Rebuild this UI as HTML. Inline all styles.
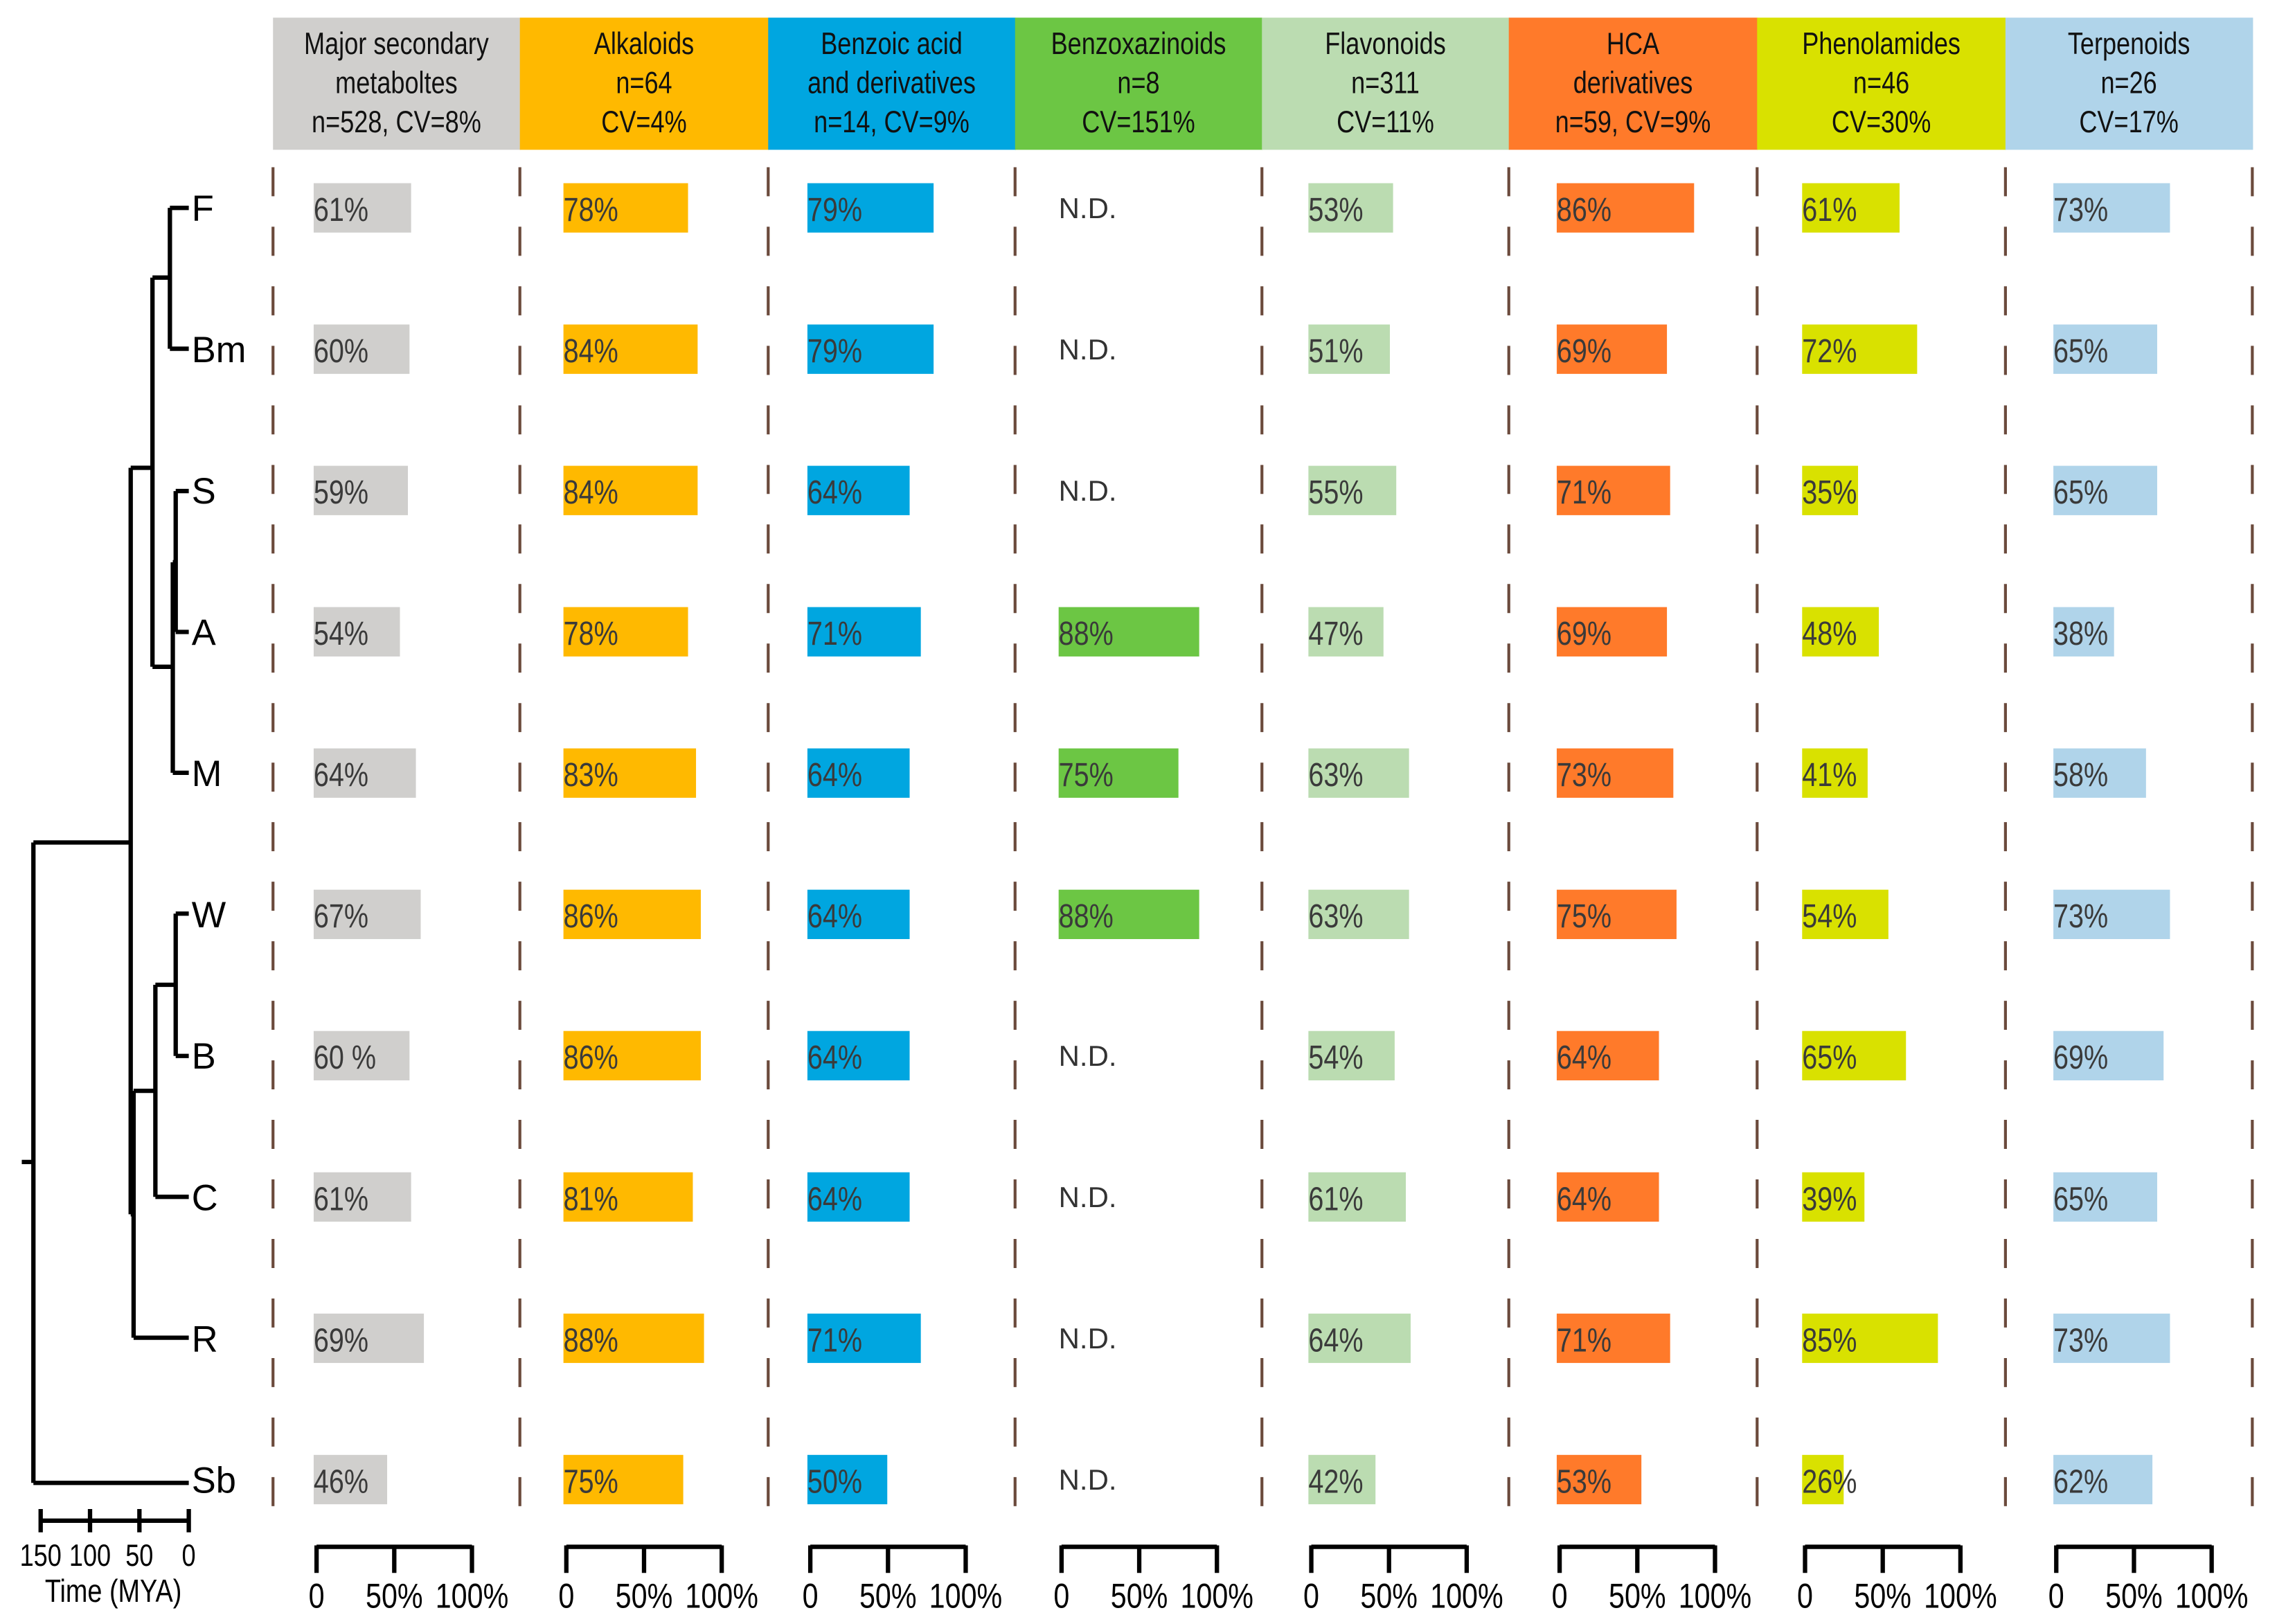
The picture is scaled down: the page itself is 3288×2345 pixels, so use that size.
<!DOCTYPE html>
<html><head><meta charset="utf-8"><style>
html,body{margin:0;padding:0;background:#fff;}
svg{display:block;font-family:"Liberation Sans",Arial,sans-serif;}
</style></head><body>
<svg id="chart" width="3288" height="2345" viewBox="0 0 1568 1118" xmlns="http://www.w3.org/2000/svg">
<g id="tree" stroke="#000" stroke-width="3" fill="none"></g>
<g id="main"></g>
</svg>
<script>
const species = ["F","Bm","S","A","M","W","B","C","R","Sb"];
const categories = ["Major secondary metaboltes","Alkaloids","Benzoic acid and derivatives","Benzoxazinoids","Flavonoids","HCA derivatives","Phenolamides","Terpenoids"];
const headerLines = [
 ["Major secondary","metaboltes","n=528, CV=8%"],
 ["Alkaloids","n=64","CV=4%"],
 ["Benzoic acid","and derivatives","n=14, CV=9%"],
 ["Benzoxazinoids","n=8","CV=151%"],
 ["Flavonoids","n=311","CV=11%"],
 ["HCA","derivatives","n=59, CV=9%"],
 ["Phenolamides","n=46","CV=30%"],
 ["Terpenoids","n=26","CV=17%"]];
const valsMajor = [61,60,59,54,64,67,60,61,69,46];
const valsAlkaloids = [78,84,84,78,83,86,86,81,88,75];
const valsBenzoic = [79,79,64,71,64,64,64,64,71,50];
const valsBenzox = [null,null,null,88,75,88,null,null,null,null];
const valsFlavonoids = [53,51,55,47,63,63,54,61,64,42];
const valsHCA = [86,69,71,69,73,75,64,64,71,53];
const valsPhenolamides = [61,72,35,48,41,54,65,39,85,26];
const valsTerpenoids = [73,65,65,38,58,73,69,65,73,62];
const series = [valsMajor,valsAlkaloids,valsBenzoic,valsBenzox,valsFlavonoids,valsHCA,valsPhenolamides,valsTerpenoids];
const axisTicks = [0,50,100];
const axisTickLabels = ["0","50%","100%"];
const timeTicks = [150,100,50,0];

const colors = ["#d0cfcd","#ffb900","#00a6e0","#6cc644","#bbdcb1","#ff7a2a","#d9e100","#b0d4ea"];
const colEdges = [188,358,529,699,869,1039,1210,1381,1551];
const barOrigins = [216,388,556,729,901,1072,1241,1414];
const NS="http://www.w3.org/2000/svg";
const main=document.getElementById('main');
function mk(tag,attrs,parent){const e=document.createElementNS(NS,tag);for(const k in attrs)e.setAttribute(k,attrs[k]);(parent||main).appendChild(e);return e;}
const colLeft=i=>colEdges[i];
const rowY=r=>143+r*97.3;
const xScale=(i,v)=>barOrigins[i]+v*1.10;
const axScale=(i,v)=>barOrigins[i]+2+v*1.07;
const SX=0.82;

categories.forEach((c,i)=>{
  const h=mk('rect',{x:colLeft(i),y:12,width:colEdges[i+1]-colEdges[i]+0.5,height:91,fill:colors[i]});
  
  
  const g=mk('g',{transform:`scale(${SX},1)`});
  const cx=(colEdges[i]+colEdges[i+1])/2;
  headerLines[i].forEach((t,k)=>{
    const tx=mk('text',{x:cx/SX,y:37+k*27,'font-size':21,'text-anchor':'middle',fill:'#111'},g);
    tx.textContent=t;
    
    
  });
});
for(let i=0;i<=8;i++){
  const l=mk('line',{x1:colLeft(i),x2:colLeft(i),y1:115,y2:1050,stroke:'#6b4a3c','stroke-width':2,'stroke-dasharray':'20 21'});
  
  
}
series.forEach((vals,i)=>{
  vals.forEach((v,r)=>{
    const y=rowY(r);
    if(v===null){
      const t=mk('text',{x:barOrigins[i],y:y+7,'font-size':20,fill:'#333'});
      t.textContent='N.D.';
      
      
      return;
    }
    const b=mk('rect',{x:xScale(i,0),y:y-17,width:xScale(i,v)-xScale(i,0),height:34,fill:colors[i]});
    
    
    const g=mk('g',{transform:`scale(${SX},1)`});
    const t=mk('text',{x:xScale(i,0)/SX,y:y+9,'font-size':23,fill:'#3a3a3a'},g);
    t.textContent=(i===0&&r===6)?v+' %':v+'%';
    
    
  });
  const ax=mk('g',{stroke:'#000','stroke-width':3});
  
  
  mk('line',{x1:axScale(i,0),x2:axScale(i,100),y1:1065,y2:1065},ax);
  axisTicks.forEach((tv,k)=>{
    mk('line',{x1:axScale(i,tv),x2:axScale(i,tv),y1:1064,y2:1083},ax);
    const g=mk('g',{transform:`scale(${SX},1)`});
    const t=mk('text',{x:axScale(i,tv)/SX,y:1107,'font-size':24,'text-anchor':'middle',fill:'#000'},g);
    t.textContent=axisTickLabels[k];
    
    
  });
});
const tree=document.getElementById('tree');
const segs=[
 [117,143,130,143],[117,240,130,240],[117,143,117,240],
 [121,338,130,338],[121,435,130,435],[121,338,121,435],
 [119,387,121,387],[119,532,130,532],[119,387,119,532],
 [105,191,117,191],[105,459,119,459],[105,191,105,459],
 [121,629,130,629],[121,727,130,727],[121,629,121,727],
 [107,678,121,678],[107,824,130,824],[107,678,107,824],
 [92,751,107,751],[92,921,130,921],[92,751,92,921],
 [90,322,105,322],[90,836,92,836],[90,322,90,836],
 [23,580,90,580],[23,1021,130,1021],[23,580,23,1021],[15,800,23,800]];
segs.forEach(s=>mk('line',{x1:s[0],y1:s[1],x2:s[2],y2:s[3]},tree));
species.forEach((s,r)=>{
  const t=mk('text',{x:132,y:rowY(r)+9,'font-size':25,fill:'#000'});
  t.textContent=s;
  
  
});
const tx=v=>130-v*0.68;
const sb=mk('g',{stroke:'#000','stroke-width':3});


mk('line',{x1:tx(150),x2:tx(0),y1:1047,y2:1047},sb);
timeTicks.forEach(v=>{
  mk('line',{x1:tx(v),x2:tx(v),y1:1039,y2:1055},sb);
  const g=mk('g',{transform:`scale(${SX},1)`});
  const t=mk('text',{x:tx(v)/SX,y:1078,'font-size':21,'text-anchor':'middle'},g);
  t.textContent=v;
  
  
});
const g2=mk('g',{transform:`scale(${SX},1)`});
const tt=mk('text',{x:78/SX,y:1103,'font-size':22,'text-anchor':'middle'},g2);
tt.textContent='Time (MYA)';


</script>
</body></html>
